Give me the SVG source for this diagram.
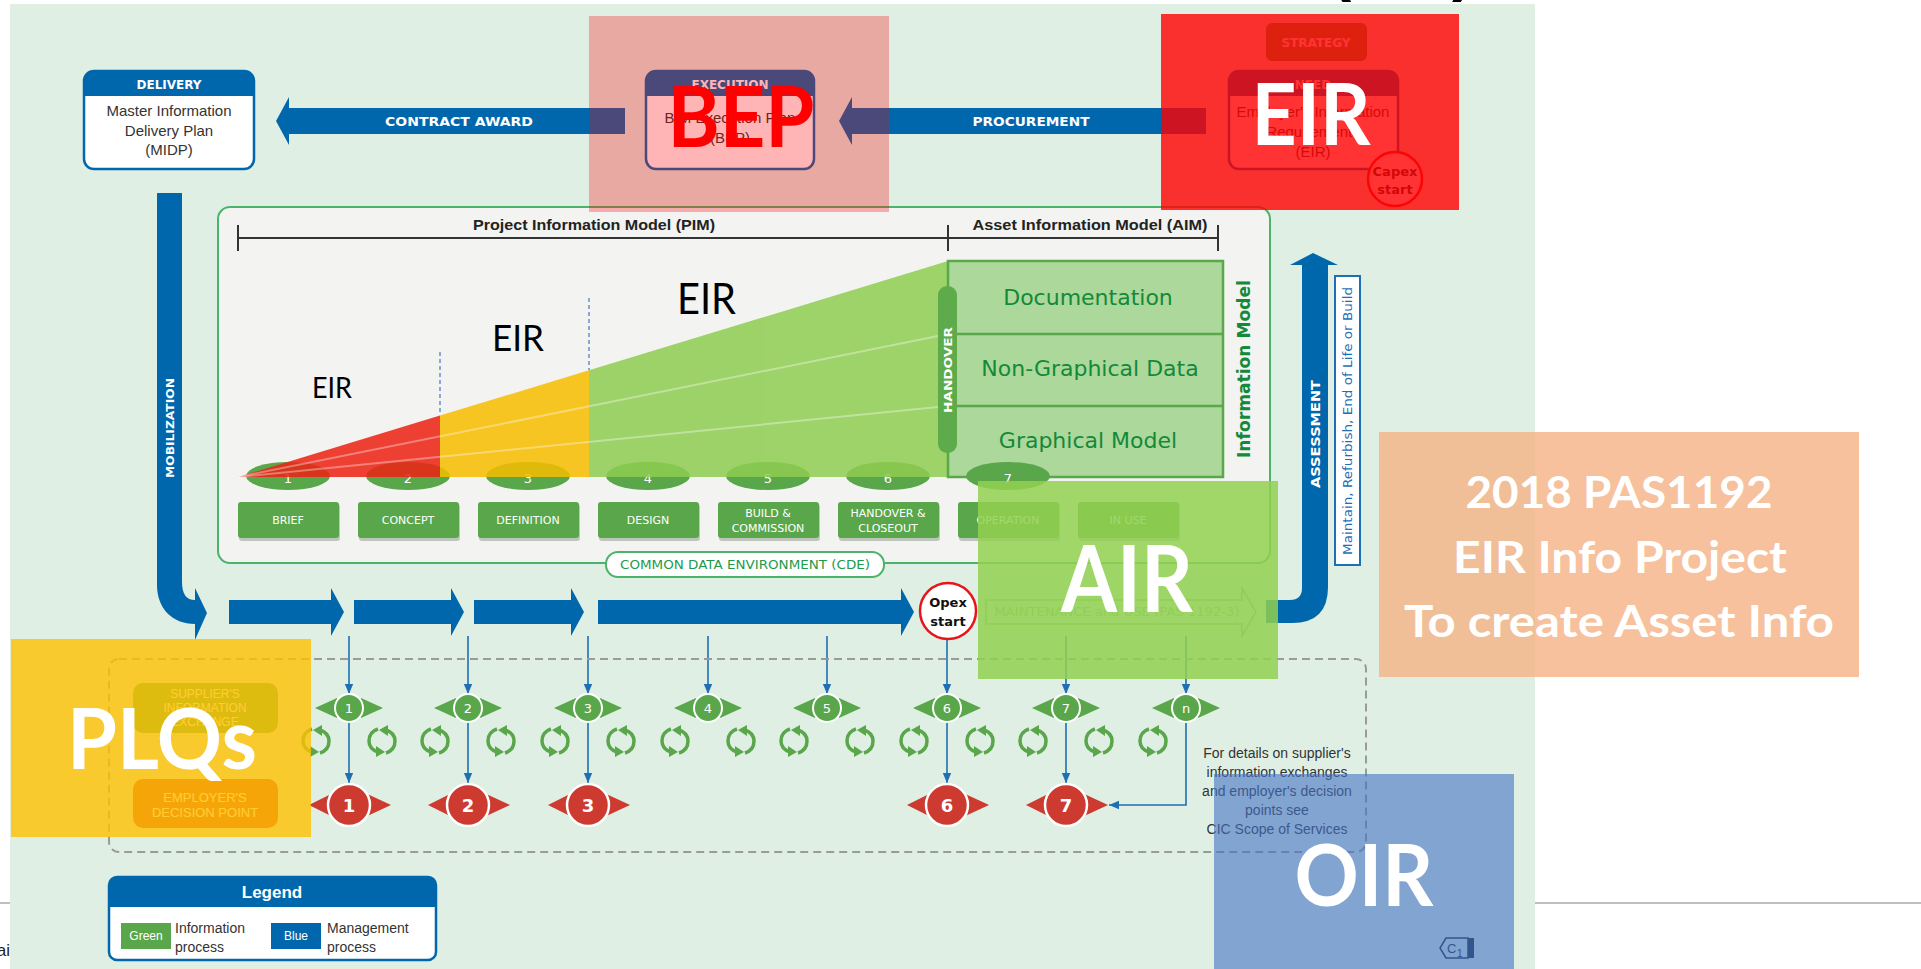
<svg xmlns="http://www.w3.org/2000/svg" xmlns:xlink="http://www.w3.org/1999/xlink" width="1921" height="969" viewBox="0 0 1921 969">
<style>
.ls{font-family:"Liberation Sans",Arial,sans-serif}
.dv{font-family:"DejaVu Sans",Verdana,sans-serif}
.big{font-family:Lato,"Open Sans",sans-serif;font-weight:700;fill:#fff}
.blue{fill:#0067ac}
.grn{fill:#5aa64a}
.wt{fill:#fff}
.body{fill:#333;font-size:15px;text-anchor:middle}
.hdr{fill:#fff;font-size:12px;font-weight:700;text-anchor:middle}
.stg{fill:#fff;font-size:11px;text-anchor:middle}
.num{fill:#fff;font-size:13px;text-anchor:middle}
.tbl{fill:#13893a;font-size:22px;text-anchor:middle}
.conn{stroke:#1f6fb5;stroke-width:1.6;fill:none}
</style>
<defs>
<marker id="ah" markerUnits="userSpaceOnUse" markerWidth="10" markerHeight="10" viewBox="0 0 10 10" refX="10" refY="5" orient="auto">
<path d="M0,0.8 L10,5 L0,9.2 Z" fill="#1f6fb5"/>
</marker>
<g id="cyc">
<path d="M-4,-12 Q-13,-9 -13,0 Q-13,8 -4,11" fill="none" stroke="#5aa64a" stroke-width="3.5"/>
<polygon points="-6,5 3,11 -6,16" fill="#5aa64a"/>
<path d="M4,12 Q13,9 13,0 Q13,-8 4,-11" fill="none" stroke="#5aa64a" stroke-width="3.5"/>
<polygon points="6,-5 -3,-11 6,-16" fill="#5aa64a"/>
</g>
<g id="gd">
<polygon points="-34,0 -12,-10 -12,10" fill="#5aa64a"/>
<polygon points="34,0 12,-10 12,10" fill="#5aa64a"/>
<circle r="14" fill="#5aa64a" stroke="#fff" stroke-width="2"/>
</g>
<g id="rd">
<polygon points="-40,0 -14,-13 -14,13" fill="#cc3a30"/>
<polygon points="42,0 14,-13 14,13" fill="#cc3a30"/>
<circle r="21" fill="#cc3a30" stroke="#fff" stroke-width="2.5"/>
</g>
</defs>

<rect x="0" y="0" width="1921" height="969" fill="#fff"/>
<line x1="0" y1="903" x2="10" y2="903" stroke="#a8a8a8" stroke-width="1.5"/>
<line x1="1535" y1="903" x2="1921" y2="903" stroke="#a8a8a8" stroke-width="1.5"/>
<text x="10" y="956" class="ls" font-size="17" text-anchor="end" fill="#222">ai</text>
<text x="1330" y="-11" class="ls" font-size="64" font-weight="700" fill="#000">(</text>
<text x="1452" y="-11" class="ls" font-size="64" font-weight="700" fill="#000">)</text>

<rect x="10" y="4" width="1525" height="965" fill="#dfefe4"/>

<g id="connectors">
<polygon class="blue" points="625,108 289,108 289,97 276,121 289,145 289,134 625,134"/>
<text x="459" y="126" class="dv wt" font-size="13" font-weight="700" text-anchor="middle" textLength="148" lengthAdjust="spacingAndGlyphs">CONTRACT AWARD</text>
<polygon class="blue" points="1206,108 852,108 852,97 839,121 852,145 852,134 1206,134"/>
<text x="1031" y="126" class="dv wt" font-size="13" font-weight="700" text-anchor="middle" textLength="117" lengthAdjust="spacingAndGlyphs">PROCUREMENT</text>
<path class="blue" d="M157,193 H182 V582 Q182,600 195,600 V588 L207,613 L195,640 V624 C172,624 157,608 157,585 Z"/>
<text transform="translate(174,428) rotate(-90)" class="dv wt" font-size="11" font-weight="700" text-anchor="middle" textLength="100" lengthAdjust="spacingAndGlyphs">MOBILIZATION</text>
<polygon class="blue" points="229,600 331,600 331,588 344,612 331,636 331,624 229,624"/>
<polygon class="blue" points="354,600 451,600 451,588 464,612 451,636 451,624 354,624"/>
<polygon class="blue" points="474,600 571,600 571,588 584,612 571,636 571,624 474,624"/>
<polygon class="blue" points="598,600 901,600 901,588 914,612 901,636 901,624 598,624"/>
<polygon points="986,600 1242,600 1242,588 1256,612 1242,636 1242,624 986,624" fill="none" stroke="#86bf72" stroke-width="1.5"/>
<text x="1117" y="616" class="dv" font-size="12" fill="#8cbf7a" text-anchor="middle" textLength="245" lengthAdjust="spacingAndGlyphs">MAINTENANCE and USE (PAS 1192-3)</text>
<path class="blue" d="M1266,600 H1290 Q1302,600 1302,588 V265 H1290 L1313,253 L1338,265 H1328 V587 Q1328,623 1292,623 H1266 Z"/>
<text transform="translate(1320,434) rotate(-90)" class="dv wt" font-size="13" font-weight="700" text-anchor="middle" textLength="108" lengthAdjust="spacingAndGlyphs">ASSESSMENT</text>
<line class="conn" x1="349" y1="636" x2="349" y2="694" marker-end="url(#ah)"/>
<line class="conn" x1="468" y1="636" x2="468" y2="694" marker-end="url(#ah)"/>
<line class="conn" x1="588" y1="636" x2="588" y2="694" marker-end="url(#ah)"/>
<line class="conn" x1="708" y1="636" x2="708" y2="694" marker-end="url(#ah)"/>
<line class="conn" x1="827" y1="636" x2="827" y2="694" marker-end="url(#ah)"/>
<line class="conn" x1="947" y1="639" x2="947" y2="694" marker-end="url(#ah)"/>
<line class="conn" x1="1066" y1="636" x2="1066" y2="694" marker-end="url(#ah)"/>
<line class="conn" x1="1186" y1="636" x2="1186" y2="694" marker-end="url(#ah)"/>
<line class="conn" x1="349" y1="722" x2="349" y2="783" marker-end="url(#ah)"/>
<line class="conn" x1="468" y1="722" x2="468" y2="783" marker-end="url(#ah)"/>
<line class="conn" x1="588" y1="722" x2="588" y2="783" marker-end="url(#ah)"/>
<line class="conn" x1="947" y1="722" x2="947" y2="783" marker-end="url(#ah)"/>
<line class="conn" x1="1066" y1="722" x2="1066" y2="783" marker-end="url(#ah)"/>
<path class="conn" d="M1186,722 V805 H1109" marker-end="url(#ah)"/>
</g>

<g id="delivery">
<rect x="84" y="71" width="170" height="98" rx="10" fill="#fff" stroke="#0067ac" stroke-width="2.5"/>
<path class="blue" d="M84,96 V81 Q84,71 94,71 H244 Q254,71 254,81 V96 Z"/>
<text x="169" y="89" class="dv hdr">DELIVERY</text>
<text class="ls body"><tspan x="169" y="116">Master Information</tspan><tspan x="169" y="136">Delivery Plan</tspan><tspan x="169" y="155">(MIDP)</tspan></text>
</g>
<g id="execution">
<rect x="646" y="71" width="168" height="98" rx="10" fill="#fff" stroke="#0067ac" stroke-width="2.5"/>
<path class="blue" d="M646,96 V81 Q646,71 656,71 H804 Q814,71 814,81 V96 Z"/>
<text x="730" y="89" class="dv hdr">EXECUTION</text>
<text class="ls body"><tspan x="730" y="123">BIM Execution Plan</tspan><tspan x="730" y="143">(BEP)</tspan></text>
</g>
<g id="strategy">
<rect x="1266" y="23" width="101" height="38" rx="6" fill="#5aa64a"/>
<text x="1316" y="47" class="dv hdr">STRATEGY</text>
</g>
<g id="need">
<rect x="1229" y="71" width="169" height="98" rx="10" fill="#fff" stroke="#0067ac" stroke-width="2.5"/>
<path class="blue" d="M1229,96 V81 Q1229,71 1239,71 H1388 Q1398,71 1398,81 V96 Z"/>
<text x="1313" y="89" class="dv hdr">NEED</text>
<text class="ls body"><tspan x="1313" y="117">Employer's Information</tspan><tspan x="1313" y="137">Requirements</tspan><tspan x="1313" y="157">(EIR)</tspan></text>
</g>
<g id="capex">
<circle cx="1395" cy="179" r="27" fill="#fff" stroke="#e8141a" stroke-width="2.5"/>
<text x="1395" y="176" class="dv" font-size="13" font-weight="700" text-anchor="middle" fill="#222">Capex</text>
<text x="1395" y="194" class="dv" font-size="13" font-weight="700" text-anchor="middle" fill="#222">start</text>
</g>

<g id="cde-panel">
<rect x="218" y="207" width="1052" height="356" rx="12" fill="#f3f3f1" stroke="#4cb36b" stroke-width="2"/>
<g stroke="#333" stroke-width="2">
<line x1="238" y1="238" x2="1218" y2="238"/>
<line x1="238" y1="225" x2="238" y2="251"/>
<line x1="948" y1="225" x2="948" y2="251"/>
<line x1="1218" y1="225" x2="1218" y2="251"/>
</g>
<text x="594" y="230" class="ls" font-size="14" font-weight="700" fill="#222" text-anchor="middle" textLength="242" lengthAdjust="spacingAndGlyphs">Project Information Model (PIM)</text>
<text x="1090" y="230" class="ls" font-size="14" font-weight="700" fill="#222" text-anchor="middle" textLength="235" lengthAdjust="spacingAndGlyphs">Asset Information Model (AIM)</text>
</g>
<g id="stage-ovals">
<ellipse cx="288" cy="476" rx="42" ry="14" fill="#5aa64a"/>
<ellipse cx="408" cy="476" rx="42" ry="14" fill="#5aa64a"/>
<ellipse cx="528" cy="476" rx="42" ry="14" fill="#5aa64a"/>
<ellipse cx="648" cy="476" rx="42" ry="14" fill="#5aa64a"/>
<ellipse cx="768" cy="476" rx="42" ry="14" fill="#5aa64a"/>
<ellipse cx="888" cy="476" rx="42" ry="14" fill="#5aa64a"/>
<text class="dv num" y="483"><tspan x="288">1</tspan></text>
<text class="dv num" x="408" y="483">2</text>
<text class="dv num" x="528" y="483">3</text>
<text class="dv num" x="648" y="483">4</text>
<text class="dv num" x="768" y="483">5</text>
<text class="dv num" x="888" y="483">6</text>
</g>
<g id="wedge" opacity="0.86">
<polygon points="238,477 440,415.6 440,477" fill="#ee2215"/>
<polygon points="440,415.6 589,370.3 589,477 440,477" fill="#f7be00"/>
<polygon points="589,370.3 948,261 948,477 589,477" fill="#8ecd51"/>
</g>
<g id="wedge-lines" stroke="#fff" stroke-opacity="0.35" stroke-width="2">
<line x1="238" y1="477" x2="948" y2="334"/>
<line x1="238" y1="477" x2="948" y2="406"/>
</g>
<g stroke="#4f81c7" stroke-width="1.3" stroke-dasharray="4 3">
<line x1="440" y1="352" x2="440" y2="415"/>
<line x1="589" y1="298" x2="589" y2="370"/>
</g>
<g id="eir-labels" font-family="Lato,'Open Sans',sans-serif" fill="#000">
<text x="312" y="398" font-size="28" textLength="40" lengthAdjust="spacingAndGlyphs">EIR</text>
<text x="492" y="351" font-size="36" textLength="52" lengthAdjust="spacingAndGlyphs">EIR</text>
<text x="677" y="314" font-size="43" textLength="59" lengthAdjust="spacingAndGlyphs">EIR</text>
</g>
<g id="aim-table">
<rect x="948" y="261" width="275" height="216" fill="#acd89b" stroke="#5aa84a" stroke-width="2.5"/>
<line x1="948" y1="334" x2="1223" y2="334" stroke="#5aa84a" stroke-width="2.5"/>
<line x1="948" y1="406" x2="1223" y2="406" stroke="#5aa84a" stroke-width="2.5"/>
<text x="1088" y="305" class="dv tbl">Documentation</text>
<text x="1090" y="376" class="dv tbl">Non-Graphical Data</text>
<text x="1088" y="448" class="dv tbl">Graphical Model</text>
</g>
<g id="handover">
<rect x="938" y="286" width="19" height="167" rx="9" fill="#5eab4b"/>
<text transform="translate(952,370) rotate(-90)" class="dv wt" font-size="10.5" font-weight="700" text-anchor="middle" textLength="86" lengthAdjust="spacingAndGlyphs">HANDOVER</text>
</g>
<text transform="translate(1250,369) rotate(-90)" class="dv" font-size="17" font-weight="700" fill="#13893a" text-anchor="middle" textLength="178" lengthAdjust="spacingAndGlyphs">Information Model</text>
<g id="stage7">
<ellipse cx="1008" cy="476" rx="42" ry="14" fill="#5aa64a"/>
<text class="dv num" x="1008" y="483">7</text>
</g>
<g id="stage-boxes">
<g fill="#8a9a86" opacity="0.5">
<rect x="239" y="504" width="101" height="37" rx="3"/><rect x="359" y="504" width="101" height="37" rx="3"/><rect x="479" y="504" width="101" height="37" rx="3"/><rect x="599" y="504" width="101" height="37" rx="3"/><rect x="719" y="504" width="101" height="37" rx="3"/><rect x="839" y="504" width="101" height="37" rx="3"/><rect x="959" y="504" width="101" height="37" rx="3"/><rect x="1079" y="504" width="101" height="37" rx="3"/>
</g>
<g fill="#5aa64a">
<rect x="238" y="502" width="101" height="36" rx="3"/><rect x="358" y="502" width="101" height="36" rx="3"/><rect x="478" y="502" width="101" height="36" rx="3"/><rect x="598" y="502" width="101" height="36" rx="3"/><rect x="718" y="502" width="101" height="36" rx="3"/><rect x="838" y="502" width="101" height="36" rx="3"/><rect x="958" y="502" width="101" height="36" rx="3"/><rect x="1078" y="502" width="101" height="36" rx="3"/>
</g>
<text class="dv stg" x="288" y="524">BRIEF</text>
<text class="dv stg" x="408" y="524">CONCEPT</text>
<text class="dv stg" x="528" y="524">DEFINITION</text>
<text class="dv stg" x="648" y="524">DESIGN</text>
<text class="dv stg"><tspan x="768" y="517">BUILD &amp;</tspan><tspan x="768" y="532">COMMISSION</tspan></text>
<text class="dv stg"><tspan x="888" y="517">HANDOVER &amp;</tspan><tspan x="888" y="532">CLOSEOUT</tspan></text>
<text class="dv stg" x="1008" y="524">OPERATION</text>
<text class="dv stg" x="1128" y="524">IN USE</text>
</g>
<g id="cde-label">
<rect x="606" y="552" width="278" height="25" rx="12" fill="#fff" stroke="#4cb36b" stroke-width="2"/>
<text x="745" y="569" class="dv" font-size="12" fill="#1d9a4a" text-anchor="middle" textLength="250" lengthAdjust="spacingAndGlyphs">COMMON DATA ENVIRONMENT (CDE)</text>
</g>
<g id="maintain-box">
<rect x="1335" y="276" width="25" height="289" fill="#fff" stroke="#1f6fb5" stroke-width="2"/>
<text transform="translate(1352,421) rotate(-90)" class="dv" font-size="12" fill="#1f6fb5" text-anchor="middle" textLength="268" lengthAdjust="spacingAndGlyphs">Maintain, Refurbish, End of Life or Build</text>
</g>
<g id="opex">
<circle cx="948" cy="611" r="28" fill="#fff" stroke="#e8141a" stroke-width="2.5"/>
<text x="948" y="607" class="dv" font-size="13" font-weight="700" text-anchor="middle" fill="#111">Opex</text>
<text x="948" y="626" class="dv" font-size="13" font-weight="700" text-anchor="middle" fill="#111">start</text>
</g>

<rect id="exchange-frame" x="109" y="659" width="1257" height="193" rx="10" fill="none" stroke="#9a9a9a" stroke-width="2" stroke-dasharray="8 5"/>
<g id="supplier">
<rect x="133" y="683" width="145" height="50" rx="10" fill="#5aa64a"/>
<text class="ls" font-size="12" fill="#fff" text-anchor="middle"><tspan x="205" y="698">SUPPLIER'S</tspan><tspan x="205" y="712">INFORMATION</tspan><tspan x="205" y="726">EXCHANGE</tspan></text>
</g>
<g id="employer">
<rect x="133" y="779" width="145" height="49" rx="10" fill="#cf3a2e"/>
<text class="ls" font-size="13" fill="#fff" text-anchor="middle"><tspan x="205" y="802">EMPLOYER'S</tspan><tspan x="205" y="817">DECISION POINT</tspan></text>
</g>
<g id="cycles">
<use href="#cyc" x="316" y="741"/><use href="#cyc" x="382" y="741"/>
<use href="#cyc" x="435" y="741"/><use href="#cyc" x="501" y="741"/>
<use href="#cyc" x="555" y="741"/><use href="#cyc" x="621" y="741"/>
<use href="#cyc" x="675" y="741"/><use href="#cyc" x="741" y="741"/>
<use href="#cyc" x="794" y="741"/><use href="#cyc" x="860" y="741"/>
<use href="#cyc" x="914" y="741"/><use href="#cyc" x="980" y="741"/>
<use href="#cyc" x="1033" y="741"/><use href="#cyc" x="1099" y="741"/>
<use href="#cyc" x="1153" y="741"/>
</g>
<g id="info-exchanges">
<use href="#gd" x="349" y="708"/><use href="#gd" x="468" y="708"/><use href="#gd" x="588" y="708"/><use href="#gd" x="708" y="708"/><use href="#gd" x="827" y="708"/><use href="#gd" x="947" y="708"/><use href="#gd" x="1066" y="708"/><use href="#gd" x="1186" y="708"/>
<g class="dv" font-size="13" fill="#fff" text-anchor="middle">
<text x="349" y="713">1</text><text x="468" y="713">2</text><text x="588" y="713">3</text><text x="708" y="713">4</text><text x="827" y="713">5</text><text x="947" y="713">6</text><text x="1066" y="713">7</text><text x="1186" y="713">n</text>
</g>
</g>
<g id="decision-points">
<use href="#rd" x="349" y="805"/><use href="#rd" x="468" y="805"/><use href="#rd" x="588" y="805"/><use href="#rd" x="947" y="805"/><use href="#rd" x="1066" y="805"/>
<g class="dv" font-size="18" font-weight="700" fill="#fff" text-anchor="middle">
<text x="349" y="812">1</text><text x="468" y="812">2</text><text x="588" y="812">3</text><text x="947" y="812">6</text><text x="1066" y="812">7</text>
</g>
</g>
<text id="note" class="ls" font-size="14" fill="#333" text-anchor="middle"><tspan x="1277" y="758">For details on supplier's</tspan><tspan x="1277" y="777">information exchanges</tspan><tspan x="1277" y="796">and employer's decision</tspan><tspan x="1277" y="815">points see</tspan><tspan x="1277" y="834">CIC Scope of Services</tspan></text>

<g id="legend">
<rect x="109" y="877" width="327" height="83" rx="8" fill="#fff" stroke="#0067ac" stroke-width="2.5"/>
<path class="blue" d="M109,907 V885 Q109,877 117,877 H428 Q436,877 436,885 V907 Z"/>
<text x="272" y="898" class="ls" font-size="17" font-weight="700" fill="#fff" text-anchor="middle">Legend</text>
<rect x="121" y="923" width="50" height="26" fill="#5aa64a"/>
<text x="146" y="940" class="ls" font-size="12" fill="#fff" text-anchor="middle">Green</text>
<text class="ls" font-size="14" fill="#333"><tspan x="175" y="933">Information</tspan><tspan x="175" y="952">process</tspan></text>
<rect x="271" y="923" width="50" height="26" fill="#0067ac"/>
<text x="296" y="940" class="ls" font-size="12" fill="#fff" text-anchor="middle">Blue</text>
<text class="ls" font-size="14" fill="#333"><tspan x="327" y="933">Management</tspan><tspan x="327" y="952">process</tspan></text>
</g>

<g id="bep-overlay">
<rect x="589" y="16" width="300" height="196" fill="#ff0000" opacity="0.29"/>
<text x="741" y="147" class="big" font-size="84" fill="#ff0000" style="fill:#ff0000" text-anchor="middle" textLength="147" lengthAdjust="spacingAndGlyphs">BEP</text>
</g>
<g id="eir-overlay">
<rect x="1161" y="14" width="298" height="196" fill="#ff0000" opacity="0.8"/>
<text x="1311" y="145" class="big" font-size="86" text-anchor="middle" textLength="119" lengthAdjust="spacingAndGlyphs">EIR</text>
</g>
<g id="air-overlay">
<rect x="978" y="481" width="300" height="198" fill="#92d050" opacity="0.85"/>
<text x="1127" y="612" class="big" font-size="92" text-anchor="middle" textLength="132" lengthAdjust="spacingAndGlyphs">AIR</text>
</g>
<g id="plq-overlay">
<rect x="11" y="639" width="300" height="198" fill="#ffc000" opacity="0.8"/>
<text x="162" y="769" class="big" font-size="85" text-anchor="middle" textLength="190" lengthAdjust="spacingAndGlyphs">PLQs</text>
</g>
<g id="oir-overlay">
<rect x="1214" y="774" width="300" height="195" fill="#4472c4" opacity="0.6"/>
<text x="1364" y="906" class="big" font-size="86" text-anchor="middle" textLength="139" lengthAdjust="spacingAndGlyphs">OIR</text>
</g>
<g id="c1-icon">
<path d="M1446,938 H1468 V958 H1446 L1440,948 Z" fill="none" stroke="#34558c" stroke-width="1.5"/>
<rect x="1468" y="938" width="6" height="20" fill="#34558c"/>
<text x="1447" y="953" class="ls" font-size="13" fill="#34558c">C</text>
<text x="1457" y="957" class="ls" font-size="10" fill="#34558c">1</text>
</g>
<g id="pas-note">
<rect x="1379" y="432" width="480" height="245" fill="#f4b183" opacity="0.8"/>
<text x="1619" y="508" class="big" font-size="44" text-anchor="middle" textLength="307" lengthAdjust="spacingAndGlyphs">2018 PAS1192</text>
<text x="1620" y="573" class="big" font-size="44" text-anchor="middle" textLength="334" lengthAdjust="spacingAndGlyphs">EIR Info Project</text>
<text x="1619" y="637" class="big" font-size="44" text-anchor="middle" textLength="430" lengthAdjust="spacingAndGlyphs">To create Asset Info</text>
</g>
</svg>
